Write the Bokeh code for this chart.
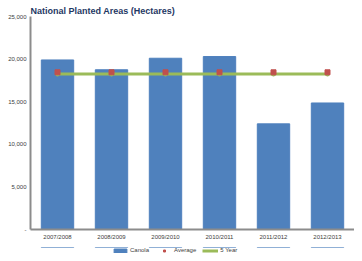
from bokeh.plotting import figure
from bokeh.layouts import column
from bokeh.models import ColumnDataSource, FixedTicker, Legend, LegendItem, Range1d, FactorRange
from bokeh.embed import file_html
from bokeh.resources import INLINE

seasons = ["2007/2008", "2008/2009", "2009/2010", "2010/2011", "2011/2012", "2012/2013"]
canola = [19900, 18750, 20100, 20300, 12400, 14850]
average = [18450, 18450, 18450, 18450, 18450, 18450]
five_year = [18250, 18250, 18250, 18250, 18250, 18250]
y_ticks = [0, 5000, 10000, 15000, 20000, 25000]
y_labels = ["-", "5,000", "10,000", "15,000", "20,000", "25,000"]
legend_labels = ["Canola", "Average", "5 Year"]
title_text = "National Planted Areas (Hectares)"

BLUE, RED, GREEN = "#4F81BD", "#C0504D", "#9BBB59"

src = ColumnDataSource(dict(x=seasons, canola=canola, avg=average, fy=five_year))

p = figure(x_range=seasons, y_range=Range1d(0, 25000), width=354, height=244,
           output_backend="svg", toolbar_location=None,
           min_border_left=30, min_border_right=0, min_border_top=16, min_border_bottom=15)
p.title.text = title_text
p.title.text_font = "Liberation Sans"
p.title.text_font_size = "9px"
p.title.text_color = "#1F3864"
p.title.align = "left"
p.title.offset = 0
p.title.standoff = 1

p.vbar(x="x", top="canola", width=0.6, source=src, color=BLUE)
p.line(x="x", y="fy", source=src, line_color=GREEN, line_width=3)
p.scatter(x="x", y="fy", source=src, marker="circle", size=4, color=GREEN)
p.scatter(x="x", y="avg", source=src, marker="square", size=5,
          fill_color=RED, line_color=RED)

p.grid.visible = False
p.outline_line_color = None

p.yaxis.ticker = FixedTicker(ticks=y_ticks)
p.yaxis.major_label_overrides = {t: l for t, l in zip(y_ticks, y_labels)}
p.yaxis.major_tick_line_color = None
p.yaxis.major_tick_out = 0
p.yaxis.minor_tick_line_color = None
p.yaxis.minor_tick_out = 0
p.yaxis.axis_line_color = "#8C8C8C"
p.yaxis.axis_line_width = 2
p.yaxis.major_label_text_font_size = "6px"
p.yaxis.major_label_text_color = "#404040"
p.yaxis.major_label_standoff = 4

p.xaxis.major_tick_line_color = None
p.xaxis.major_tick_out = 0
p.xaxis.axis_line_color = "#8C8C8C"
p.xaxis.axis_line_width = 2
p.xaxis.major_label_text_font_size = "6px"
p.xaxis.major_label_text_color = "#404040"
p.xaxis.major_label_standoff = 4

# legend strip below the chart (its renderers fall far outside its own ranges)
lg = figure(width=354, height=9, output_backend="svg", toolbar_location=None,
            x_range=FactorRange(*seasons), y_range=Range1d(-100000, -99999),
            min_border=0, x_axis_type=None, y_axis_type=None)
lg.outline_line_color = None
lg.grid.visible = False
r1 = lg.vbar(x="x", top="canola", width=0.6, source=src, color=BLUE)
r2 = lg.scatter(x="x", y="avg", source=src, marker="square", size=5, fill_color=RED, line_color=RED)
r3 = lg.line(x="x", y="fy", source=src, line_color=GREEN, line_width=3)
legend = Legend(items=[LegendItem(label=legend_labels[0], renderers=[r1]),
                       LegendItem(label=legend_labels[1], renderers=[r2]),
                       LegendItem(label=legend_labels[2], renderers=[r3])],
                orientation="horizontal", location=(82, 0),
                label_text_font_size="6px", label_text_color="#404040",
                glyph_width=16, glyph_height=5, label_standoff=2, spacing=6,
                padding=1, margin=0, border_line_color=None,
                background_fill_alpha=0, label_height=6)
lg.add_layout(legend)

layout = column(p, lg, spacing=0)
open("out.html", "w").write(file_html(layout, INLINE))
